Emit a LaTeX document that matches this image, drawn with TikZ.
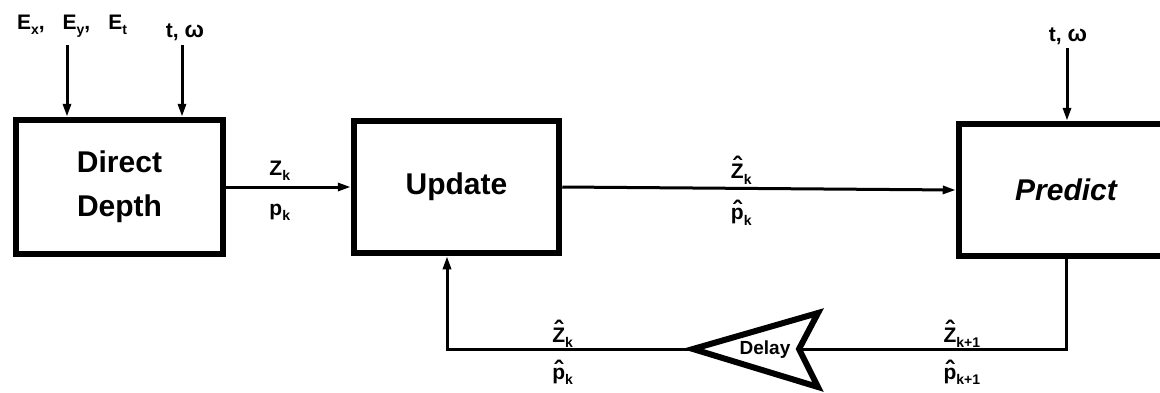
\documentclass[tikz,border=0pt]{standalone}
\usepackage{fontspec}
\setmainfont{Liberation Sans}
\usetikzlibrary{arrows.meta}

% letter with a heavier circumflex set above it
\newcommand{\hatted}[2]{\ooalign{#2\cr\hidewidth\raisebox{#1}{\fontsize{26}{20}\selectfont\char"02C6}\hidewidth\cr}}
\newcommand{\hZ}{\hatted{0.14em}{Z}}
\newcommand{\hp}{\hatted{0.0em}{p}}
% lowered small index
\newcommand{\sub}[1]{\raisebox{-0.28em}{\fontsize{14}{14}\selectfont #1}}

\tikzset{
  box/.style={draw, line width=6.5pt, inner sep=0pt, align=center,
              font=\fontsize{30}{44}\selectfont\bfseries},
  conn/.style={line width=3pt, -{Triangle[length=13pt,width=8pt]}},
  wire/.style={line width=3pt},
  lbl/.style={font=\fontsize{21}{22}\selectfont\bfseries, inner sep=0pt, anchor=base},
  inlbl/.style={font=\fontsize{21}{22}\selectfont\bfseries, inner sep=0pt, anchor=base},
}

\begin{document}
\begin{tikzpicture}[x=1pt, y=-1pt]
\useasboundingbox (0,0) rectangle (1160,392);

% blocks
\node[box, minimum width=207pt, minimum height=134pt] (dd) at (119.5,187) {Direct\\Depth};
\node[box, minimum width=205pt, minimum height=132pt] (up) at (456.5,187) {Update};
\node[box, minimum width=214pt, minimum height=132pt,
      font=\fontsize{30}{44}\selectfont\bfseries\itshape] (pr) at (1066,190) {Predict};

% external inputs
\node[inlbl] (lex) at (72,29) {E\sub{x},\hspace{18pt}E\sub{y},\hspace{18pt}E\sub{t}};
\node[inlbl] (ltw) at (185,37) {t, \fontsize{23}{22}\selectfont ω};
\node[inlbl] (rtw) at (1068,41) {t, \fontsize{23}{22}\selectfont ω};
\coordinate (ina) at (67,45);
\coordinate (inb) at (182,45);
\coordinate (inc) at (1067,48);
\draw[conn] (ina) -- (ina |- dd.north);
\draw[conn] (inb) -- (inb |- dd.north);
\draw[conn] (inc) -- (inc |- pr.north);

% forward path
\draw[conn] (dd.east) --
  node[lbl, pos=0.43, yshift=12pt] {Z\sub{k}}
  node[lbl, pos=0.43, yshift=-28pt] {p\sub{k}} (up.west);
\draw[conn] (up.east) --
  node[lbl, pos=0.455, yshift=10pt] {\hZ\sub{k}}
  node[lbl, pos=0.455, yshift=-31pt] {\hp\sub{k}} (pr.west);

% delay element
\coordinate (dtip) at (693,349);
\coordinate (dtop) at (818,313);
\coordinate (dnotch) at (799,349);
\coordinate (dbot) at (818,387);
\draw[line width=6pt, line join=miter] (dtip) -- (dtop) -- (dnotch) -- (dbot) -- cycle;
\node[font=\fontsize{19}{20}\selectfont\bfseries, inner sep=0pt] (dl) at (765,350) {Delay};

% feedback path
\draw[wire] (pr.south) -- (pr.south |- dnotch) --
  node[lbl, pos=0.39, yshift=7pt] {\hZ\sub{k+1}}
  node[lbl, pos=0.39, yshift=-30pt] {\hp\sub{k+1}} (dnotch);
\coordinate (fb) at (447,349);
\draw[conn] (dtip) --
  node[lbl, pos=0.53, yshift=7pt] {\hZ\sub{k}}
  node[lbl, pos=0.53, yshift=-30pt] {\hp\sub{k}} (fb) -- (fb |- up.south);
\end{tikzpicture}
\end{document}
